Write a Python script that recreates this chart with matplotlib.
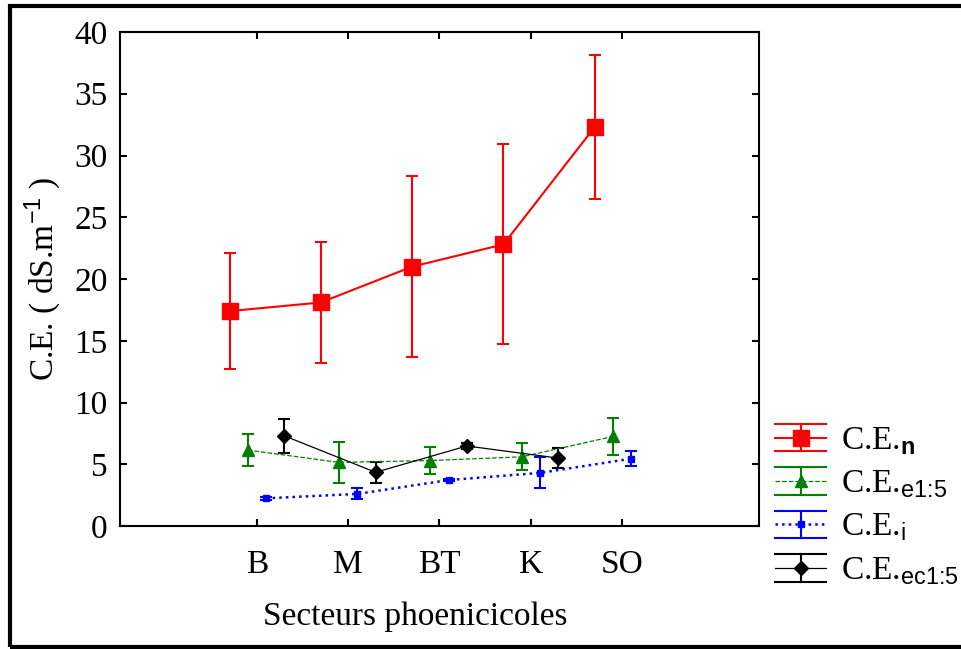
import numpy as np
import matplotlib
matplotlib.use("Agg")
import matplotlib.pyplot as plt
from matplotlib.lines import Line2D
from matplotlib.legend_handler import HandlerBase
from matplotlib.patches import Rectangle

plt.rcParams['font.family'] = ['Liberation Serif', 'DejaVu Serif']
plt.rcParams['mathtext.fontset'] = 'custom'
plt.rcParams['mathtext.rm'] = 'Liberation Sans'
plt.rcParams['mathtext.it'] = 'Liberation Sans'
plt.rcParams['mathtext.bf'] = 'Liberation Sans:bold'

# Data
secteurs = ['B', 'M', 'BT', 'K', 'SO']

ce_n = [17.4, 18.1, 21.0, 22.8, 32.3]
ce_n_err = [4.7, 4.9, 7.3, 8.1, 5.8]

ce_e15 = [6.15, 5.15, 5.3, 5.6, 7.25]
ce_e15_err = [1.3, 1.65, 1.1, 1.1, 1.5]

ce_i = [2.24, 2.6, 3.72, 4.3, 5.45]
ce_i_err = [0.1, 0.45, 0.1, 1.25, 0.6]

ce_ec15 = [7.3, 4.35, 6.48, 5.5, np.nan]
ce_ec15_err = [1.35, 0.85, 0.25, 0.8, np.nan]

series = [
    (ce_n, ce_n_err, -0.3, 'red', '-', 1.5, 's', 11, r'C.E.$_{\mathbf{n}}$'),
    (ce_e15, ce_e15_err, -0.1, 'green', '--', 0.9, '^', 9, r'C.E.$_{\text{e1:5}}$'),
    (ce_i, ce_i_err, 0.1, 'blue', ':', 1.8, 's', 5, r'C.E.$_{\text{i}}$'),
    (ce_ec15, ce_ec15_err, 0.3, 'black', '-', 0.9, 'D', 7.5, r'C.E.$_{\text{ec1:5}}$'),
]


class ErrHandler(HandlerBase):
    # legend key: two long caps, a vertical bar, the line and the marker
    def __init__(self, color, ls, lw, marker, ms):
        super().__init__()
        self.color, self.ls, self.lw, self.marker, self.ms = color, ls, lw, marker, ms

    def create_artists(self, legend, orig_handle, xdescent, ydescent,
                       width, height, fontsize, trans):
        x0, x1 = -xdescent, -xdescent + width
        yc = -ydescent + height / 2
        h = height / 2
        xm = (x0 + x1) / 2
        arts = [
            Line2D([x0, x1], [yc + h, yc + h], color=self.color, lw=1.5),
            Line2D([x0, x1], [yc - h, yc - h], color=self.color, lw=1.5),
            Line2D([xm, xm], [yc - h, yc + h], color=self.color, lw=1.5),
            Line2D([x0, x1], [yc, yc], color=self.color, ls=self.ls, lw=self.lw),
            Line2D([xm], [yc], color=self.color, marker=self.marker,
                   ms=self.ms, ls='none'),
        ]
        for a in arts:
            a.set_transform(trans)
        return arts


fig = plt.figure(figsize=(9.62, 6.49), dpi=100)
ax = fig.add_axes([0.1247, 0.1895, 0.6643, 0.7612])

x = np.arange(len(secteurs))
handles, labels, hmap = [], [], {}
for vals, errs, dx, col, ls, lw, mk, ms, lab in series:
    eb = ax.errorbar(x + dx, vals, yerr=errs, color=col, ls=ls, lw=lw,
                     marker=mk, ms=ms, mec=col, mfc=col, elinewidth=1.5,
                     capsize=4, capthick=1.5)
    handles.append(eb)
    labels.append(lab)
    hmap[eb] = ErrHandler(col, ls, lw, mk, ms)

ax.set_xlim(-1.5, 5.5)
ax.set_ylim(0, 40)
ax.set_yticks(np.arange(0, 41, 5))
ax.set_xticks(x)
ax.set_xticklabels(secteurs)
ax.tick_params(direction='in', length=5, width=1.5, labelsize=24,
               top=True, right=True)
ax.tick_params(axis='x', pad=17)
ax.tick_params(axis='y', pad=9)
for s in ax.spines.values():
    s.set_linewidth(1.5)

ax.set_ylabel(r'C.E. ( dS.m$^{-1}$ )', fontsize=24, labelpad=8)
ax.set_xlabel('Secteurs phoenicicoles', fontsize=24)
ax.xaxis.set_label_coords(0.462, -0.153)

fig.legend(handles, labels, handler_map=hmap, loc='upper left',
           bbox_to_anchor=(0.806, 0.347), frameon=False, fontsize=24,
           handlelength=1.53, handleheight=0.9, handletextpad=0.45,
           labelspacing=0.32, borderpad=0, borderaxespad=0)

# frame around the whole figure, open on the right
fig.patches.append(Rectangle((0.0105, 0.003), 1.2, 0.988, transform=fig.transFigure,
                             fill=False, lw=3, ec='black', clip_on=False))

fig.savefig('out.png', dpi=100)
